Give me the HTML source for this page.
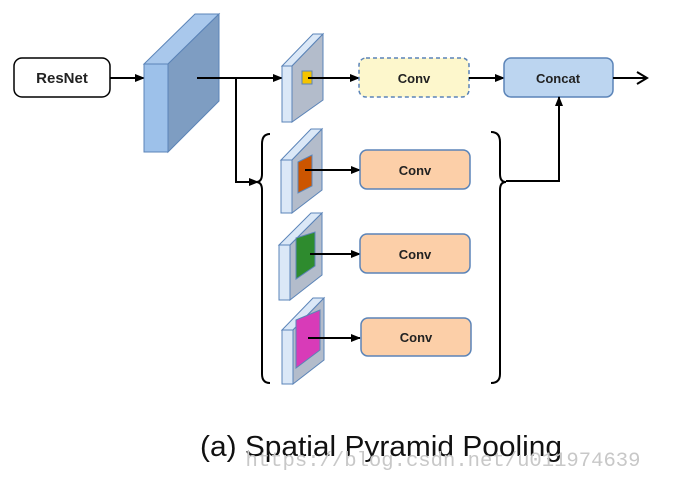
<!DOCTYPE html>
<html><head><meta charset="utf-8"><style>
html,body{margin:0;padding:0;background:#fff;}
svg{display:block;font-family:"Liberation Sans",sans-serif;}
</style></head><body>
<svg width="686" height="477" viewBox="0 0 686 477" xmlns="http://www.w3.org/2000/svg">
<defs>
<marker id="a" markerWidth="10" markerHeight="10" refX="9" refY="5" orient="auto" markerUnits="userSpaceOnUse">
<path d="M0,1 L10,5 L0,9 Z" fill="#000"/></marker>
<marker id="o" markerWidth="14" markerHeight="14" refX="12" refY="7" orient="auto" markerUnits="userSpaceOnUse">
<path d="M2,1 L12,7 L2,13" fill="none" stroke="#000" stroke-width="2"/></marker>
</defs>
<rect x="14" y="58" width="96" height="39" rx="8" fill="#fff" stroke="#000" stroke-width="1.5"/>
<text x="62" y="83" font-size="15" font-weight="bold" text-anchor="middle" fill="#222">ResNet</text>
<line x1="110" y1="78" x2="144" y2="78" stroke="#000" stroke-width="2" marker-end="url(#a)"/>
<polygon points="144,64 168,64 219,14 195,14" fill="#a9c8ec" stroke="#5b84b8" stroke-width="1"/>
<polygon points="168,64 219,14 219,101 168,152" fill="#7e9dc2" stroke="#5b84b8" stroke-width="1"/>
<rect x="144" y="64" width="24" height="88" fill="#9dc1ea" stroke="#5b84b8" stroke-width="1"/>
<polyline points="197,78 282,78" fill="none" stroke="#000" stroke-width="2" marker-end="url(#a)"/>
<polyline points="236,78 236,182 258,182" fill="none" stroke="#000" stroke-width="2" marker-end="url(#a)"/>
<polygon points="282,66 292,66 323,34 313,34" fill="#dbe8f7" stroke="#5b84b8"/>
<polygon points="292,66 323,34 323,100 292,122" fill="#b3bccb" stroke="#5b84b8"/>
<rect x="282" y="66" width="10" height="56" fill="#dbe8f7" stroke="#5b84b8"/>
<rect x="302" y="71" width="10" height="13" fill="#f5c400" stroke="#5b84b8"/>
<line x1="308" y1="78" x2="359" y2="78" stroke="#000" stroke-width="2" marker-end="url(#a)"/>
<polygon points="281,160 292,160 322,129 311,129" fill="#dbe8f7" stroke="#5b84b8"/>
<polygon points="292,160 322,129 322,190 292,213" fill="#b3bccb" stroke="#5b84b8"/>
<rect x="281" y="160" width="11" height="53" fill="#dbe8f7" stroke="#5b84b8"/>
<polygon points="298,162 312,155 312,186 298,193" fill="#cc5500" stroke="#5b84b8"/>
<line x1="305" y1="170" x2="360" y2="170" stroke="#000" stroke-width="2" marker-end="url(#a)"/>
<polygon points="279,245 290,245 322,213 311,213" fill="#dbe8f7" stroke="#5b84b8"/>
<polygon points="290,245 322,213 322,275 290,300" fill="#b3bccb" stroke="#5b84b8"/>
<rect x="279" y="245" width="11" height="55" fill="#dbe8f7" stroke="#5b84b8"/>
<polygon points="296,238 315,232 315,266 296,279" fill="#2e8b2e" stroke="#5b84b8"/>
<line x1="310" y1="254" x2="360" y2="254" stroke="#000" stroke-width="2" marker-end="url(#a)"/>
<polygon points="282,330 293,330 324,298 313,298" fill="#dbe8f7" stroke="#5b84b8"/>
<polygon points="293,330 324,298 324,360 293,384" fill="#b3bccb" stroke="#5b84b8"/>
<rect x="282" y="330" width="11" height="54" fill="#dbe8f7" stroke="#5b84b8"/>
<polygon points="296,320 320,310 320,350 296,368" fill="#d83bb8" stroke="#5b84b8"/>
<line x1="308" y1="338" x2="360" y2="338" stroke="#000" stroke-width="2" marker-end="url(#a)"/>
<rect x="359" y="58" width="110" height="39" rx="7" fill="#fdf7cc" stroke="#5b84b8" stroke-width="1.5" stroke-dasharray="4,3"/>
<text x="414" y="83" font-size="13" font-weight="bold" text-anchor="middle" fill="#222">Conv</text>
<rect x="360" y="150" width="110" height="39" rx="7" fill="#fccfa8" stroke="#5b84b8" stroke-width="1.5"/>
<text x="415" y="175" font-size="13" font-weight="bold" text-anchor="middle" fill="#222">Conv</text>
<rect x="360" y="234" width="110" height="39" rx="7" fill="#fccfa8" stroke="#5b84b8" stroke-width="1.5"/>
<text x="415" y="259" font-size="13" font-weight="bold" text-anchor="middle" fill="#222">Conv</text>
<rect x="361" y="318" width="110" height="38" rx="7" fill="#fccfa8" stroke="#5b84b8" stroke-width="1.5"/>
<text x="416" y="342" font-size="13" font-weight="bold" text-anchor="middle" fill="#222">Conv</text>
<line x1="469" y1="78" x2="504" y2="78" stroke="#000" stroke-width="2" marker-end="url(#a)"/>
<rect x="504" y="58" width="109" height="39" rx="7" fill="#bcd5f0" stroke="#5b84b8" stroke-width="1.5"/>
<text x="558" y="83" font-size="13" font-weight="bold" text-anchor="middle" fill="#222">Concat</text>
<line x1="613" y1="78" x2="647" y2="78" stroke="#000" stroke-width="2" marker-end="url(#o)"/>
<path d="M270,134 Q262,134 262,144 L262,174 Q262,182 256,182 Q262,182 262,190 L262,374 Q262,383 270,383" fill="none" stroke="#000" stroke-width="2"/>
<path d="M491,132 Q500,132 500,142 L500,174 Q500,182 506,182 Q500,182 500,190 L500,374 Q500,383 491,383" fill="none" stroke="#000" stroke-width="2"/>
<polyline points="506,181 559,181 559,97" fill="none" stroke="#000" stroke-width="2" marker-end="url(#a)"/>
<text x="381" y="456" font-size="29" text-anchor="middle" fill="#111" textLength="362" lengthAdjust="spacingAndGlyphs">(a) Spatial Pyramid Pooling</text>
<text x="443" y="466" font-size="20" text-anchor="middle" fill="#c8c8c8" font-family="Liberation Mono,monospace" textLength="395" lengthAdjust="spacingAndGlyphs">https://blog.csdn.net/u011974639</text>
</svg>
</body></html>
